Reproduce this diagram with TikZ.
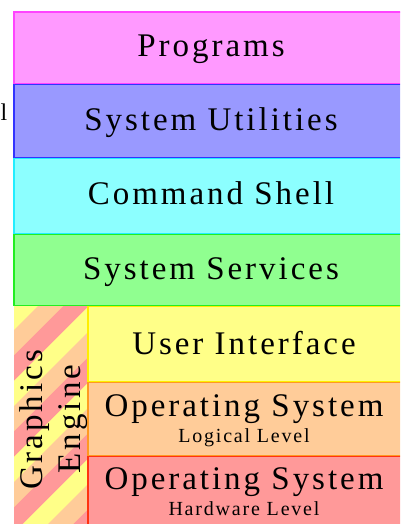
\documentclass[tikz,border=0pt]{standalone}
\usepackage{fontspec}
\setmainfont{Liberation Serif}[LetterSpace=9]
\usepackage{tikz}

\definecolor{progfill}{HTML}{FF99FF}
\definecolor{progline}{HTML}{FF44FF}
\definecolor{utilfill}{HTML}{9999FF}
\definecolor{utilline}{HTML}{3333FF}
\definecolor{shellfill}{HTML}{8CFFFF}
\definecolor{shellline}{HTML}{22EEFF}
\definecolor{servfill}{HTML}{90FF90}
\definecolor{servline}{HTML}{22EE22}
\definecolor{uifill}{HTML}{FFFF88}
\definecolor{uiline}{HTML}{FFEE00}
\definecolor{logfill}{HTML}{FFCC99}
\definecolor{logline}{HTML}{FF9922}
\definecolor{hwfill}{HTML}{FF9999}
\definecolor{hwline}{HTML}{FF3311}

\begin{document}
\begin{tikzpicture}[x=1pt, y=-1pt,
        box/.style={line width=1.2pt},
        lbl/.style={anchor=base, font=\fontsize{33}{38}\selectfont},
        sublbl/.style={anchor=base, font=\fontsize{20}{24}\selectfont}]
        \useasboundingbox (0,0) rectangle (400,524);
        \clip (0,0) rectangle (400,524);

        %%%%%%%%%%%%%%%%%%%%%%%%%%%%%%
        % graphics engine stripes
        \begin{scope}
            \clip (14,306) rectangle (88,530);
            \fill[uifill] (14,306) rectangle (88,530);
            \foreach \k in {-1,0,1,2,3} {
                \fill[logfill] (344+76*\k-300,300) -- (369.3+76*\k-300,300)
                    -- (369.3+76*\k-530,530) -- (344+76*\k-530,530) -- cycle;
                \fill[hwfill] (369.3+76*\k-300,300) -- (394.7+76*\k-300,300)
                    -- (394.7+76*\k-530,530) -- (369.3+76*\k-530,530) -- cycle;
            }
        \end{scope}

        %%%%%%%%%%%%%%%%%%%%%%%%%%%%%%
        \filldraw[box, fill=progfill, draw=progline] (14,12) rectangle (412,83.4);
        \filldraw[box, fill=utilfill, draw=utilline] (14,84.6) rectangle (412,157.4);
        \filldraw[box, fill=shellfill, draw=shellline] (14,158.6) rectangle (412,233.4);
        \filldraw[box, fill=servfill, draw=servline] (14,234.6) rectangle (412,305.4);
        \filldraw[box, fill=uifill, draw=uiline] (88,306.6) rectangle (412,381.4);
        \filldraw[box, fill=logfill, draw=logline] (88,382.6) rectangle (412,455.4);
        \filldraw[box, fill=hwfill, draw=hwline] (88,456.6) rectangle (412,540);

        %%%%%%%%%%%%%%%%%%%%%%%%%%%%%%
        \node[lbl] (prog) at (211,57) {Programs};
        \node[lbl] (util) at (211,131) {System Utilities};
        \node[lbl] (shell) at (211,204) {Command Shell};
        \node[lbl] (serv) at (211,279) {System Services};
        \node[lbl] (ui) at (244,354) {User Interface};
        \node[lbl] (oslog) at (244,416) {Operating System};
        \node[sublbl] (loglvl) at (244,442) {Logical Level};
        \node[lbl] (oshw) at (244,489) {Operating System};
        \node[sublbl] (hwlvl) at (244,515) {Hardware Level};
        \node[lbl, rotate=90] (gfx) at (42,420) {Graphics};
        \node[lbl, rotate=90] (eng) at (80,419) {Engine};

        \node[anchor=base west, inner sep=0pt, font=\fontsize{24}{28}\selectfont] (cut) at (0.5,121) {l};
\end{tikzpicture}
\end{document}
